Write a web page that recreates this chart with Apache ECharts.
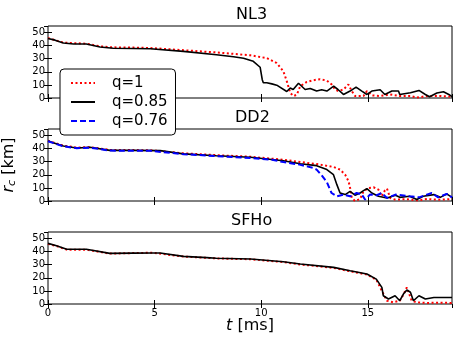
<!DOCTYPE html>
<html>
<head>
<meta charset="utf-8">
<script src="https://cdn.jsdelivr.net/npm/echarts@6/dist/echarts.min.js"></script>
<style>
html,body{margin:0;padding:0;background:#fff;}
#chart{width:463px;height:348px;}
</style>
</head>
<body>
<div id="chart"></div>
<script>
// panel names and legend names
var panelNames=['NL3','DD2','SFHo'];
var seriesNames=['q=1','q=0.85','q=0.76'];
var yTicks=[0,10,20,30,40,50];
var xTicks=[0,5,10,15];

// NL3
var nl3T_q1=[0,0.72,1.8,2.44,3.0,4.0,4.8,6.35,7.9,9.5,10.26,10.73,11.04,11.2,11.36,11.51,11.67,11.83,12.14,12.45,12.76,13.08,13.31,13.47,13.62,13.86,14.09,14.25,14.4,14.8,14.96,15.19,15.58,16.05,16.5,17.0,17.3,17.77,18.4,18.95];
var nl3R_q1=[45.8,42.3,41.5,39.5,38.7,38.5,38.2,36.5,34.8,32.6,30.5,26.7,20.4,12.9,4,1.5,2.5,9,12.3,13.6,14.4,13.3,10.3,6.5,5.3,6.5,10.3,5.3,1.5,1.5,5.3,2,1.5,2.7,1.5,1.5,0.3,1.5,1.5,1];
var nl3T_q085=[0,0.33,0.72,1.2,1.8,2.44,3.06,4.0,4.8,6.35,7.9,8.7,9.17,9.63,9.95,10.05,10.1,10.26,10.5,10.73,11.2,11.36,11.5,11.75,11.83,12.06,12.3,12.6,12.84,13.08,13.4,13.6,13.86,14.17,14.45,14.72,14.96,15.19,15.58,15.8,16.13,16.44,16.5,17.0,17.4,17.7,17.9,18.24,18.55,18.8,18.95];
var nl3R_q085=[45.5,44.2,42,41.2,41.3,38.9,38,37.8,37.6,35.6,33,31.5,30.3,28,23.5,14,11.6,11.6,10.8,9.8,5,7.6,6.5,11.3,10.8,6.5,7.3,5.3,6.3,5.3,9,6.5,2.7,5.3,8.3,5.3,2.7,5.3,6.3,2.7,5.3,5.3,2.7,4,5.8,2.7,1,3.8,4.8,2.7,1];

// DD2
var dd2T_q1=[0,0.72,1.35,1.97,2.9,4.8,6.35,7.9,9.5,11.04,11.83,12.6,13.39,13.7,13.94,14.1,14.17,14.25,14.4,14.64,14.8,15.03,15.27,15.5,15.65,15.8,15.9,16.05,16.3,16.8,17.3,17.8,18.3,18.95];
var dd2R_q1=[46,42.3,40.8,41.2,39,38.8,36.4,35,33.8,31.5,29.8,28.2,26,24,20.1,15,9.9,2.3,0,1.5,7.4,9.9,10.5,8.7,3.6,8,9.5,2.3,1,1.5,0.5,1.5,1,1.5];
var dd2T_q085=[0,0.35,0.72,1.35,1.97,2.9,4.0,5.26,6.35,7.9,9.5,11.04,11.83,12.6,13.08,13.39,13.55,13.7,13.94,14.17,14.4,14.64,14.8,14.96,15.19,15.5,15.9,16.3,16.5,16.96,17.3,17.6,18.1,18.4,18.7,18.95];
var dd2R_q085=[45.8,44,42,40.5,41,38.7,38.7,38.5,36,34.6,33.4,30.8,28.5,27,24,20.1,12.5,6.1,4.9,7.4,4.4,6.1,7.9,9.5,6.1,3.6,2.3,4.4,2.8,3.6,1.1,3.6,4.9,2.8,5.4,2.8];
var dd2T_q076=[0,0.72,1.35,1.97,2.9,4.8,6.35,7.9,9.5,10.5,11.04,11.8,12.45,12.6,12.84,13.08,13.3,13.55,13.86,14.17,14.48,14.72,14.88,15.1,15.42,15.65,15.9,16.3,16.96,17.4,18.0,18.3,18.7,18.95];
var dd2R_q076=[45.6,41.8,40.3,40.8,38.5,38.3,35.8,34.3,32.8,31.5,29.8,27.8,25.2,24,19.6,14.5,6.1,3.6,4.9,3.6,6.1,4.9,1,4.9,4.4,6.1,2.3,4.9,3.6,2.8,6.1,2.8,5.4,2.8];

// SFHo
var sfhoT_q1=[0,0.4,0.88,1.8,2.9,4.9,6.35,7.9,9.5,11.04,11.83,13.4,14.17,14.96,15.4,15.66,15.9,16.2,16.5,16.7,16.83,17.06,17.3,17.8,18.4,18.95];
var sfhoR_q1=[46,44.3,41.5,41.5,38.5,39.2,36.2,34.8,34.2,32,30.2,27.6,25,22.5,18.5,10,2.5,1.3,2.5,8,12.7,2.5,1.3,0.8,1,0.8];
var sfhoT_q085=[0,0.4,0.88,1.8,2.9,4.0,4.9,5.26,6.35,7.45,7.9,9.5,11.04,11.83,13.4,14.17,14.96,15.4,15.66,15.73,15.97,16.28,16.5,16.67,16.83,17.0,17.14,17.4,17.7,18.1,18.95];
var sfhoR_q085=[46.3,44.5,41.8,41.8,38.7,38.9,39,39,36.4,35.4,34.9,34.4,32.3,30.5,28,25.4,22.9,19,12.7,6.3,3.8,6.3,2.5,7.6,10.7,9,2.5,6.3,3.8,5,5];

var xMax=18.95;
var yMax=55;

function pairs(ts,vs){
	var out=[];
	for(var i=0;i<ts.length;i++){
		out.push([ts[i],vs[i]]);
	}
	return out;
}

var panelData=[
	[pairs(nl3T_q1,nl3R_q1),pairs(nl3T_q085,nl3R_q085),null],
	[pairs(dd2T_q1,dd2R_q1),pairs(dd2T_q085,dd2R_q085),pairs(dd2T_q076,dd2R_q076)],
	[pairs(sfhoT_q1,sfhoR_q1),pairs(sfhoT_q085,sfhoR_q085),null]
];

var lineStyles=[
	{color:'#ff0000',width:2,type:[2,2.5]},
	{color:'#000000',width:1.6,type:'solid'},
	{color:'#0000ff',width:2,type:[6,3]}
];

var font='DejaVu Sans';
var gridTops=[26,129,232];
var grids=[],xAxes=[],yAxes=[],series=[],graphics=[];

for(var p=0;p<3;p++){
	grids.push({left:48,top:gridTops[p],width:404,height:72,show:true,borderColor:'#000',borderWidth:1,backgroundColor:'transparent'});
	var isLast=(p==2);
	// bottom and top x axes
	xAxes.push({
		type:'value',gridIndex:p,position:'bottom',min:0,max:xMax,interval:5,
		axisLine:{show:false},splitLine:{show:false},
		axisTick:{show:true,inside:true,length:4,lineStyle:{color:'#000'}},
		axisLabel:{show:isLast,showMaxLabel:false,fontFamily:font,fontSize:10,color:'#000',margin:4}
	});
	xAxes.push({
		type:'value',gridIndex:p,position:'top',min:0,max:xMax,interval:5,
		axisLine:{show:false},splitLine:{show:false},
		axisTick:{show:true,inside:true,length:4,lineStyle:{color:'#000'}},
		axisLabel:{show:false}
	});
	// left and right y axes
	yAxes.push({
		type:'value',gridIndex:p,position:'left',min:0,max:yMax,interval:10,
		axisLine:{show:false},splitLine:{show:false},
		axisTick:{show:true,inside:true,length:4,lineStyle:{color:'#000'}},
		axisLabel:{showMaxLabel:false,fontFamily:font,fontSize:10,color:'#000',margin:3}
	});
	yAxes.push({
		type:'value',gridIndex:p,position:'right',min:0,max:yMax,interval:10,
		axisLine:{show:false},splitLine:{show:false},
		axisTick:{show:true,inside:true,length:4,lineStyle:{color:'#000'}},
		axisLabel:{show:false}
	});
	for(var s=0;s<3;s++){
		if(panelData[p][s]==null) continue;
		series.push({
			type:'line',name:seriesNames[s],xAxisIndex:2*p,yAxisIndex:2*p,
			data:panelData[p][s],symbol:'none',animation:false,
			lineStyle:lineStyles[s],itemStyle:{color:lineStyles[s].color},z:2+s
		});
	}
	// panel title
	graphics.push({
		type:'text',left:250,top:gridTops[p]-19,
		style:{text:panelNames[p],fontFamily:font,fontSize:16,fill:'#000',textAlign:'center'}
	});
}

graphics[0].left=236;
graphics[1].left=235;
graphics[2].left=231;

// axis labels
graphics.push({
	type:'text',x:9,y:165,rotation:Math.PI/2,
	style:{
		text:'{i|r}{s|c} [km]',fontFamily:font,fontSize:16,fill:'#000',align:'center',verticalAlign:'middle',
		rich:{i:{fontStyle:'italic',fontSize:16,fontFamily:font},s:{fontStyle:'italic',fontSize:11,fontFamily:font,verticalAlign:'bottom',padding:[6,0,0,0]}}
	}
});
graphics.push({
	type:'text',x:250,y:326,
	style:{
		text:'{i|t} [ms]',fontFamily:font,fontSize:16,fill:'#000',align:'center',verticalAlign:'middle',
		rich:{i:{fontStyle:'italic',fontSize:16,fontFamily:font}}
	}
});

var myChart=echarts.init(document.getElementById('chart'),null,{renderer:'canvas'});
var option={
	backgroundColor:'#fff',
	animation:false,
	grid:grids,
	xAxis:xAxes,
	yAxis:yAxes,
	legend:{
		data:seriesNames,orient:'vertical',left:60,top:69,
		padding:[5,8,5,10],itemGap:1,itemWidth:24,itemHeight:14,
		backgroundColor:'#fff',borderColor:'#000',borderWidth:1,borderRadius:4,
		itemStyle:{opacity:0,borderWidth:0},
		textStyle:{fontFamily:font,fontSize:15,color:'#000',lineHeight:18,padding:[0,0,0,12]},
		z:10
	},
	graphic:graphics,
	series:series
};
myChart.setOption(option);
</script>
</body>
</html>
